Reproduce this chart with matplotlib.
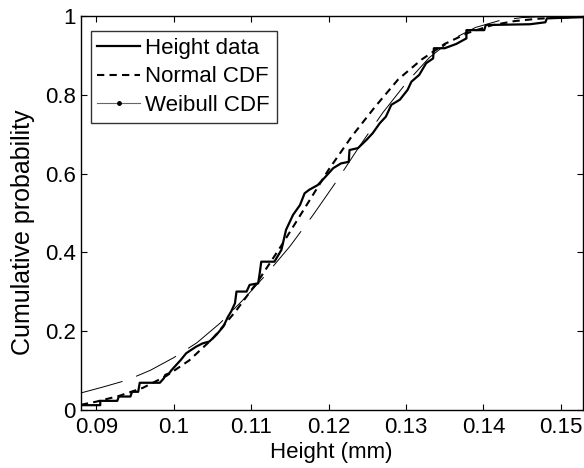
import matplotlib
matplotlib.use('Agg')
import matplotlib.pyplot as plt
from matplotlib.lines import Line2D

plt.rcParams['font.family'] = ['Liberation Sans', 'DejaVu Sans']

height_x = [0.0880, 0.0905, 0.0905, 0.0927, 0.0929, 0.0944, 0.0946, 0.0954, 0.0956, 0.0982,
            0.0987, 0.0989, 0.0994, 0.0997, 0.1003, 0.1009, 0.1016, 0.1022, 0.1029, 0.1037,
            0.1046, 0.1055, 0.1064, 0.1070, 0.1074, 0.1079, 0.1081, 0.1094, 0.1098, 0.1109,
            0.1111, 0.1113, 0.1130, 0.1139, 0.1145, 0.1154, 0.1163, 0.1169, 0.1175, 0.1186,
            0.1195, 0.1206, 0.1216, 0.1226, 0.1227, 0.1238, 0.1249, 0.1257, 0.1266, 0.1274,
            0.1281, 0.1292, 0.1302, 0.1307, 0.1317, 0.1326, 0.1335, 0.1336, 0.1350, 0.1365,
            0.1378, 0.1378, 0.1401, 0.1403, 0.1460, 0.1480, 0.1482, 0.1528]
height_y = [0.011, 0.011, 0.022, 0.022, 0.033, 0.033, 0.045, 0.045, 0.068, 0.068,
            0.079, 0.088, 0.092, 0.100, 0.113, 0.126, 0.143, 0.151, 0.160, 0.168,
            0.173, 0.190, 0.211, 0.236, 0.249, 0.270, 0.300, 0.300, 0.317, 0.321,
            0.347, 0.376, 0.376, 0.406, 0.457, 0.495, 0.520, 0.550, 0.559, 0.571,
            0.590, 0.614, 0.626, 0.630, 0.660, 0.665, 0.686, 0.703, 0.728, 0.745,
            0.775, 0.788, 0.813, 0.834, 0.851, 0.881, 0.893, 0.919, 0.919, 0.930,
            0.944, 0.965, 0.965, 0.978, 0.980, 0.985, 0.995, 0.998]

# fitted normal CDF
normal_x = [0.0880, 0.0900, 0.0930, 0.0960, 0.0990, 0.1020, 0.1050, 0.1080, 0.1110, 0.1140,
            0.1170, 0.1200, 0.1230, 0.1260, 0.1290, 0.1320, 0.1350, 0.1380, 0.1410, 0.1440,
            0.1470, 0.1500, 0.1528]
normal_y = [0.012, 0.020, 0.035, 0.055, 0.085, 0.125, 0.180, 0.250, 0.330, 0.420,
            0.515, 0.610, 0.695, 0.770, 0.840, 0.890, 0.930, 0.958, 0.977, 0.988,
            0.994, 0.997, 0.999]

# fitted Weibull CDF
weibull_x = [0.0878, 0.0910, 0.0940, 0.0970, 0.1000, 0.1030, 0.1060, 0.1090, 0.1120, 0.1150,
             0.1180, 0.1210, 0.1240, 0.1270, 0.1300, 0.1330, 0.1360, 0.1390, 0.1420, 0.1450,
             0.1480, 0.1528]
weibull_y = [0.041, 0.058, 0.075, 0.100, 0.132, 0.170, 0.220, 0.280, 0.345, 0.415,
             0.495, 0.580, 0.670, 0.755, 0.830, 0.895, 0.942, 0.972, 0.989, 0.997,
             0.9995, 1.0]

xticks = [0.09, 0.1, 0.11, 0.12, 0.13, 0.14, 0.15]
xtick_labels = ['0.09', '0.1', '0.11', '0.12', '0.13', '0.14', '0.15']
yticks = [0, 0.2, 0.4, 0.6, 0.8, 1]
ytick_labels = ['0', '0.2', '0.4', '0.6', '0.8', '1']

fig = plt.figure(figsize=(5.84, 4.68), dpi=100)
ax = fig.add_axes([0.138, 0.125, 0.860, 0.840])

ax.plot(height_x, height_y, color='k', lw=1.6)
ax.plot(normal_x, normal_y, color='k', lw=1.5, linestyle=(0, (3.5, 2.5)))
ax.plot(weibull_x, weibull_y, color='k', lw=0.7, linestyle=(0, (46, 15)))

ax.set_xlim(0.08796, 0.15284)
ax.set_ylim(0, 1)
ax.set_xticks(xticks)
ax.set_xticklabels(xtick_labels)
ax.set_yticks(yticks)
ax.set_yticklabels(ytick_labels)
ax.tick_params(direction='in', length=4, width=0.8, labelsize=16, top=True, right=True)
ax.tick_params(axis='x', pad=5.5)
ax.tick_params(axis='y', pad=3.5)
for s in ax.spines.values():
    s.set_linewidth(1.0)

ax.set_xlabel('Height (mm)', fontsize=16, labelpad=3)
ax.set_ylabel('Cumulative probability', fontsize=18)
ax.yaxis.set_label_coords(-0.091, 0.45)

handles = [
    Line2D([], [], color='k', lw=1.6),
    Line2D([], [], color='k', lw=1.5, linestyle=(0, (3.5, 2.5))),
    Line2D([], [], color='0.4', lw=0.8, marker='.', markersize=5,
           markerfacecolor='k', markeredgecolor='k'),
]
leg = ax.legend(handles, ['Height data', 'Normal CDF', 'Weibull CDF'],
                loc='upper left', bbox_to_anchor=(0.02, 0.963), borderaxespad=0,
                fontsize=16, frameon=True, fancybox=False, edgecolor='k',
                handlelength=1.94, handletextpad=0.22, labelspacing=0.35,
                borderpad=0.3)
leg.get_frame().set_linewidth(1.0)

fig.savefig('out.png', dpi=100)
